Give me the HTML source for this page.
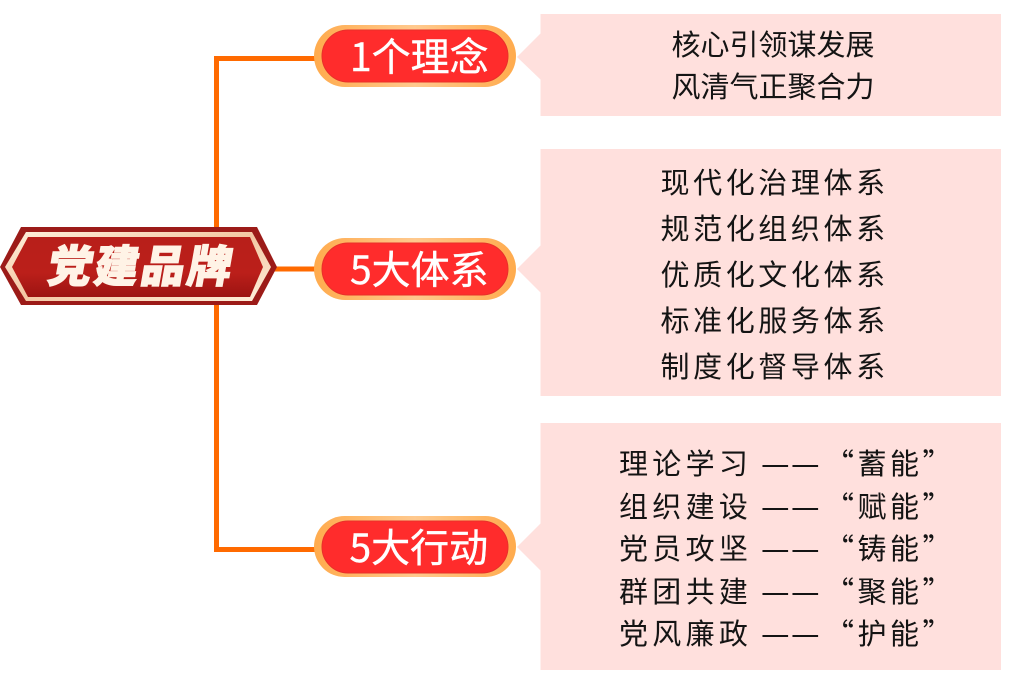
<!DOCTYPE html>
<html lang="zh"><head><meta charset="utf-8"><title>党建品牌</title>
<style>html,body{margin:0;padding:0;background:#fff;width:1024px;height:678px;overflow:hidden}svg{display:block}
text{font-family:"Liberation Sans","Noto Sans CJK SC",sans-serif}
.t{font-family:"Noto Sans CJK SC",sans-serif;font-size:29px;fill:#141414}
.d{font-family:"Noto Sans CJK SC",sans-serif;font-size:32px;fill:#141414}
.p{font-family:"Noto Sans CJK SC",sans-serif;font-size:39px;fill:#fff;stroke:#fff;stroke-width:.4px}
</style></head><body>
<svg width="1024" height="678" viewBox="0 0 1024 678" xmlns="http://www.w3.org/2000/svg">
<defs>
<linearGradient id="o" x1="0" x2="1" y1="0" y2="0"><stop offset="0" stop-color="#ffab4d"/><stop offset=".5" stop-color="#ffc98e"/><stop offset="1" stop-color="#ffab4d"/></linearGradient>
<linearGradient id="c" x1="0" x2="1" y1="0" y2="1"><stop offset="0" stop-color="#fff0dc"/><stop offset=".5" stop-color="#f3c7a3"/><stop offset="1" stop-color="#fff0dc"/></linearGradient>
<linearGradient id="r" x1="0" x2="0" y1="0" y2="1"><stop offset="0" stop-color="#b81f1a"/><stop offset=".6" stop-color="#bb1f1a"/><stop offset="1" stop-color="#9c1412"/></linearGradient>
</defs>
<g fill="#ffe0dd">
<rect x="540.500" y="14" width="460.500" height="102"/><polygon points="517,57 541,33 541,80"/>
<rect x="540.500" y="149" width="460.500" height="247"/><polygon points="517,269 541,245 541,293"/>
<rect x="540.500" y="423" width="460.500" height="247"/><polygon points="517,547 541,523 541,571"/>
</g>
<path d="M316 58.500H216.500V549.500H316M270 269H316" fill="none" stroke="#ff6a00" stroke-width="5"/>
<polygon points="0,267 21,227 257,227 277,267 257,305 21,305" fill="#9c1b18"/>
<polygon points="5,267 26,232 252,232 271,267 252,301 26,301" fill="url(#c)"/>
<polygon points="12,267 28,237 250,237 263,267 250,297 28,297" fill="url(#r)"/>
<text transform="translate(46 282) skewX(-10)" font-size="44" font-weight="900" fill="#fff3e6" stroke="#fff3e6" stroke-width="1.200" letter-spacing="2.500" style="font-family:'Noto Sans CJK SC',sans-serif">党建品牌</text>
<g>
<rect x="314" y="25" width="202" height="62" rx="31" fill="url(#o)"/><rect x="322" y="30" width="186" height="52" rx="26" fill="#ff2c2c" stroke="#e8302a" stroke-width="1"/>
<rect x="314" y="238" width="202" height="62" rx="31" fill="url(#o)"/><rect x="322" y="243" width="186" height="52" rx="26" fill="#ff2c2c" stroke="#e8302a" stroke-width="1"/>
<rect x="314" y="516" width="202" height="61" rx="30.500" fill="url(#o)"/><rect x="322" y="521" width="186" height="52" rx="26" fill="#ff2c2c" stroke="#e8302a" stroke-width="1"/>
</g>
<text class="p" x="350" y="71">1个理念</text>
<text class="p" x="350" y="284">5大体系</text>
<text class="p" x="349.500" y="562">5大行动</text>
<g>
<text class="t" x="671.500" y="55">核心引领谋发展</text>
<text class="t" x="671.500" y="97">风清气正聚合力</text>
<text class="t" x="660.500" y="193" letter-spacing="3.600">现代化治理体系</text>
<text class="t" x="660.500" y="239" letter-spacing="3.600">规范化组织体系</text>
<text class="t" x="660.500" y="285" letter-spacing="3.600">优质化文化体系</text>
<text class="t" x="660.500" y="331" letter-spacing="3.600">标准化服务体系</text>
<text class="t" x="660.500" y="377" letter-spacing="3.600">制度化督导体系</text>
<text class="t" x="619" y="474" letter-spacing="4.300">理论学习</text><text class="d" x="761" y="475">—</text><text class="d" x="791" y="475">—</text><text class="t" x="825" y="474" letter-spacing="3.500">“蓄能”</text>
<text class="t" x="619" y="517" letter-spacing="4.300">组织建设</text><text class="d" x="761" y="518">—</text><text class="d" x="791" y="518">—</text><text class="t" x="825" y="517" letter-spacing="3.500">“赋能”</text>
<text class="t" x="619" y="559" letter-spacing="4.300">党员攻坚</text><text class="d" x="761" y="560">—</text><text class="d" x="791" y="560">—</text><text class="t" x="825" y="559" letter-spacing="3.500">“铸能”</text>
<text class="t" x="619" y="602" letter-spacing="4.300">群团共建</text><text class="d" x="761" y="603">—</text><text class="d" x="791" y="603">—</text><text class="t" x="825" y="602" letter-spacing="3.500">“聚能”</text>
<text class="t" x="619" y="644" letter-spacing="4.300">党风廉政</text><text class="d" x="761" y="645">—</text><text class="d" x="791" y="645">—</text><text class="t" x="825" y="644" letter-spacing="3.500">“护能”</text>
</g>
</svg>
</body></html>
